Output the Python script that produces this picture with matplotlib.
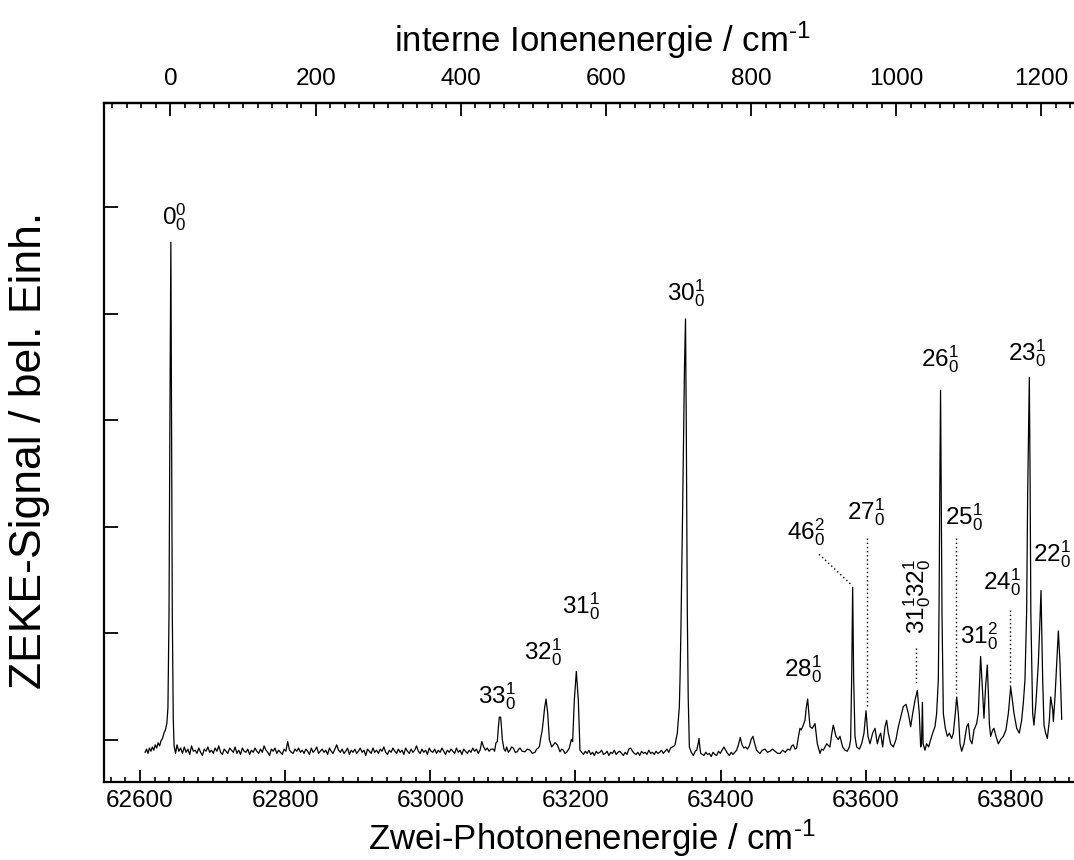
import numpy as np
import matplotlib
matplotlib.use("Agg")
import matplotlib.pyplot as plt
from matplotlib.ticker import MultipleLocator, FixedLocator

plt.rcParams['font.family'] = ['Liberation Sans', 'DejaVu Sans']
plt.rcParams['mathtext.fontset'] = 'custom'
plt.rcParams['mathtext.rm'] = 'Liberation Sans'
plt.rcParams['mathtext.it'] = 'Liberation Sans:italic'
plt.rcParams['mathtext.bf'] = 'Liberation Sans:bold'

## spectrum (x in cm^-1, signal in arb. units) ##

# origin band 0-0
band_00 = [(62607, -0.12), (62609, -0.09), (62611, -0.13), (62613, -0.08), (62615, -0.11),
           (62617, -0.07), (62619, -0.10), (62621, -0.05), (62623, -0.08), (62625, -0.03),
           (62627, -0.06), (62629, -0.01), (62631, 0.01), (62633, 0.06), (62635, 0.09),
           (62637, 0.15), (62638.5, 0.30), (62640, 1.2), (62641.2, 3.0), (62642.5, 4.67),
           (62643.5, 3.0), (62644.5, 1.2), (62645.8, 0.2), (62647, -0.06), (62649, -0.13)]

# baseline noise, 2.5 cm^-1 steps
noise_1_start = 62651
noise_1 = [-0.05, -0.11, -0.08, -0.13, -0.07, -0.12, -0.09, -0.14, -0.06, -0.11,
           -0.10, -0.13, -0.08, -0.12, -0.15, -0.09, -0.11, -0.07, -0.12, -0.10,
           -0.13, -0.08, -0.11, -0.06, -0.12, -0.14, -0.09, -0.11, -0.13, -0.08,
           -0.10, -0.12, -0.07, -0.13, -0.10, -0.14, -0.08, -0.11, -0.12, -0.09,
           -0.14, -0.10, -0.12, -0.08, -0.11, -0.13, -0.09, -0.12, -0.06, -0.10,
           -0.12, -0.15, -0.09, -0.11, -0.08, -0.13, -0.10, -0.12, -0.14, -0.09,
           -0.11, -0.02, -0.10, -0.12, -0.13, -0.09, -0.11, -0.08, -0.12, -0.10,
           -0.13, -0.09, -0.11, -0.14, -0.08, -0.12, -0.10, -0.07, -0.13, -0.11,
           -0.09, -0.12, -0.10, -0.14, -0.08, -0.11, -0.13, -0.09, -0.05, -0.10,
           -0.12, -0.09, -0.13, -0.11, -0.08, -0.14, -0.10, -0.12, -0.09, -0.13,
           -0.11, -0.08, -0.12, -0.10, -0.15, -0.09, -0.11, -0.13, -0.08, -0.12,
           -0.10, -0.13, -0.09, -0.11, -0.07, -0.12, -0.14, -0.10, -0.12, -0.08,
           -0.11, -0.13, -0.09, -0.12, -0.10, -0.14, -0.08, -0.11, -0.13, -0.09,
           -0.12, -0.10, -0.06, -0.11, -0.13, -0.09, -0.12, -0.10, -0.14, -0.08,
           -0.11, -0.12, -0.09, -0.13, -0.10, -0.12, -0.08, -0.11, -0.14, -0.10,
           -0.12, -0.09, -0.11, -0.13, -0.08, -0.12, -0.10, -0.14, -0.09, -0.11,
           -0.13, -0.10, -0.12, -0.08, -0.11, -0.09, -0.13, -0.10, -0.02, -0.07,
           -0.10, -0.08, -0.11, -0.09]

bands_33_32_31 = [(63086.8, -0.09), (63088.5, -0.11), (63090.5, -0.03), (63092.3, -0.02),
                  (63093.8, 0.12), (63095.1, 0.21), (63096.9, 0.21), (63098.2, 0.10),
                  (63099.2, 0.0), (63101.5, -0.09), (63103.5, -0.11), (63105.2, -0.07),
                  (63107.5, -0.12), (63109.8, -0.10), (63112.0, -0.07), (63114.4, -0.08),
                  (63117.0, -0.12), (63119.9, -0.115), (63121.8, -0.09), (63123.6, -0.08),
                  (63126.5, -0.11), (63130.5, -0.115), (63133.5, -0.09), (63137.4, -0.10),
                  (63140.5, -0.13), (63144.2, -0.12), (63146.5, -0.09), (63148.8, -0.08),
                  (63150.5, -0.06), (63152.0, 0.01), (63154.0, 0.08), (63155.7, 0.18),
                  (63157.5, 0.30), (63159.4, 0.38), (63161.7, 0.25), (63164.0, 0.00),
                  (63167.2, -0.07), (63169.5, -0.05), (63171.8, -0.03), (63175.0, -0.05),
                  (63178.7, -0.115), (63181.0, -0.09), (63183.3, -0.10), (63185.5, -0.13),
                  (63187.9, -0.12), (63191.5, -0.08), (63194.3, 0.00), (63196.1, -0.02),
                  (63198.4, 0.37), (63201.2, 0.64), (63203.9, 0.37), (63206.2, -0.10)]

noise_2_start = 63208.5
noise_2 = [-0.12, -0.14, -0.11, -0.13, -0.10, -0.14, -0.12, -0.15, -0.11, -0.13,
           -0.12, -0.10, -0.14, -0.13, -0.11, -0.15, -0.12, -0.13, -0.10, -0.14,
           -0.12, -0.11, -0.13, -0.15, -0.12, -0.14, -0.09, -0.08, -0.11, -0.13,
           -0.14, -0.12, -0.15, -0.11, -0.13, -0.12, -0.14, -0.10, -0.13, -0.12,
           -0.14, -0.11, -0.13, -0.12, -0.10, -0.13, -0.11, -0.09, -0.12, -0.08,
           -0.07, -0.06]

band_30 = [(63337.1, -0.05), (63340.3, 0.06), (63342.1, 0.23), (63343.1, 0.31),
           (63344.0, 0.56), (63345.2, 1.0), (63346.3, 1.50), (63347.5, 2.1),
           (63348.8, 2.8), (63350.2, 3.5), (63351.6, 3.95), (63352.6, 3.0),
           (63353.4, 2.0), (63354.1, 1.18), (63355.3, 0.4), (63356.9, -0.07),
           (63359.5, -0.12), (63362.4, -0.15), (63365.0, -0.11), (63367.0, -0.10),
           (63369.0, -0.04), (63370.2, 0.01), (63371.5, -0.08), (63372.5, -0.13),
           (63375.0, -0.14)]

noise_3_start = 63377
noise_3 = [-0.15, -0.12, -0.14, -0.13, -0.16, -0.12, -0.14, -0.15, -0.11, -0.13,
           -0.10, -0.07, -0.10, -0.13, -0.15, -0.12, -0.14, -0.12, -0.10, -0.05,
           0.02, -0.05, -0.08, -0.07, -0.09, -0.06, 0.00, 0.03, -0.04, -0.10,
           -0.12]

bands_high = [(63454.2, -0.13), (63457.5, -0.10), (63461.1, -0.09), (63464.5, -0.12),
              (63468.0, -0.11), (63471.5, -0.09), (63474.9, -0.11), (63478.5, -0.13),
              (63481.8, -0.13), (63485.5, -0.10), (63489.0, -0.12), (63492.5, -0.09),
              (63495.5, -0.10), (63498.0, -0.06), (63500.1, -0.05), (63502.5, -0.09),
              (63504.7, -0.08), (63507.0, 0.02), (63509.3, 0.105), (63511.0, 0.09),
              (63513.0, 0.12), (63516.2, 0.18), (63518.0, 0.30), (63519.9, 0.38),
              (63521.5, 0.25), (63523.1, 0.12), (63526.3, 0.105), (63528.3, 0.13),
              (63530.0, 0.15), (63533.2, -0.04), (63536.9, -0.13), (63539.0, -0.09),
              (63541.5, -0.10), (63546.1, -0.04), (63550.6, -0.07), (63553.0, 0.05),
              (63555.2, 0.135), (63558.9, 0.03), (63562.1, 0.00), (63564.4, 0.03),
              (63568.1, -0.07), (63571.3, -0.10), (63574.5, -0.11), (63577.3, -0.07),
              (63579.1, 0.00), (63580.5, 0.56), (63581.9, 1.43), (63583.3, 0.56),
              (63585.1, 0.03), (63587.4, -0.07), (63591.1, -0.09), (63594.3, -0.04),
              (63597.5, 0.06), (63600.3, 0.27), (63603.0, 0.03), (63605.8, -0.04),
              (63609.4, 0.06), (63612.7, 0.105), (63615.9, -0.04), (63618.6, 0.03),
              (63620.5, 0.06), (63623.2, -0.07), (63626.4, 0.12), (63628.7, 0.18),
              (63631.0, 0.06), (63634.2, -0.04), (63637.9, -0.07), (63641.6, 0.00),
              (63644.8, 0.12), (63649.4, 0.245), (63651.7, 0.31), (63655.4, 0.33),
              (63658.6, 0.245), (63661.8, 0.12), (63664.6, 0.245), (63667.8, 0.37),
              (63671.0, 0.46), (63673.7, 0.245), (63675.6, -0.07), (63676.8, -0.04),
              (63678.0, 0.35), (63679.0, -0.04), (63681.5, -0.10), (63683.8, -0.04),
              (63686.6, -0.07), (63689.4, 0.00), (63692.1, 0.06), (63695.3, 0.12),
              (63697.6, 0.245), (63699.9, 0.56), (63701.0, 1.3), (63702.0, 2.4),
              (63703.0, 3.28), (63704.0, 2.2), (63705.0, 1.18), (63706.8, 0.245),
              (63709.6, 0.105), (63712.3, 0.03), (63715.1, 0.06), (63718.3, 0.01),
              (63720.6, 0.06), (63723.3, 0.245), (63725.2, 0.40), (63727.5, 0.245),
              (63729.8, -0.04), (63732.1, -0.11), (63735.3, -0.04), (63739.0, 0.12),
              (63741.3, 0.15), (63743.6, 0.00), (63746.3, -0.04), (63749.1, 0.09),
              (63752.7, 0.15), (63755.0, 0.245), (63756.8, 0.55), (63758.2, 0.78),
              (63760.5, 0.50), (63762.8, 0.20), (63765.1, 0.50), (63767.4, 0.70),
              (63768.8, 0.45), (63770.2, 0.15), (63772.0, 0.03), (63774.8, 0.09),
              (63776.6, 0.105), (63779.4, 0.03), (63782.6, -0.04), (63785.8, 0.00),
              (63789.5, 0.03), (63793.1, 0.09), (63796.4, 0.245), (63799.6, 0.49),
              (63801.4, 0.40), (63804.2, 0.245), (63807.9, 0.105), (63811.5, 0.06),
              (63814.7, 0.18), (63817.0, 0.34), (63819.3, 0.56), (63821.6, 1.2),
              (63823.0, 2.3), (63825.3, 3.40), (63826.4, 2.4), (63827.4, 1.18),
              (63829.9, 0.245), (63831.7, 0.135), (63834.5, 0.355), (63837.7, 0.715),
              (63839.6, 1.05), (63841.4, 1.40), (63843.7, 0.56), (63845.5, 0.135),
              (63847.8, 0.06), (63850.1, 0.01), (63852.9, 0.18), (63854.7, 0.40),
              (63857.5, 0.28), (63858.4, 0.17), (63860.7, 0.40), (63863.0, 0.715),
              (63865.3, 1.02), (63867.6, 0.715), (63869.9, 0.19)]

## band assignments: text, x, y of label bottom ##
labels = [r'$0_0^0$', r'$33_0^1$', r'$32_0^1$', r'$31_0^1$', r'$30_0^1$', r'$28_0^1$',
          r'$46_0^2$', r'$27_0^1$', r'$26_0^1$', r'$25_0^1$', r'$31_0^2$', r'$24_0^1$',
          r'$23_0^1$', r'$22_0^1$']
label_x = [62646.8, 63091.9, 63155.2, 63207.6, 63352.3, 63513.5,
           63517.6, 63600.3, 63702.2, 63735.3, 63756.0, 63787.7,
           63822.1, 63856.6]
label_y = [4.76, 0.26, 0.67, 1.10, 4.04, 0.51,
           1.80, 1.99, 3.42, 1.94, 0.82, 1.33,
           3.48, 1.59]

combo_label = r'$31_{0}^{1}32_{0}^{1}$'
combo_x, combo_y = 63670.6, 1.34

# dotted guide lines
guides_x0 = [63535.6, 63601.7, 63669.2, 63724.7, 63798.7]
guides_y0 = [1.74, 1.89, 0.86, 1.89, 1.22]
guides_x1 = [63579.2, 63601.7, 63669.2, 63724.7, 63798.7]
guides_y1 = [1.46, 0.30, 0.51, 0.44, 0.48]

bottom_ticks = [62600, 62800, 63000, 63200, 63400, 63600, 63800]
top_ticks = [0, 200, 400, 600, 800, 1000, 1200]

ORIGIN = 62642  # 0-0 band -> zero of internal ion energy


def noise_part(start, vals, step=2.5):
    return list(zip(start + step * np.arange(len(vals)), vals))


trace = (band_00 + noise_part(noise_1_start, noise_1) + bands_33_32_31
         + noise_part(noise_2_start, noise_2) + band_30
         + noise_part(noise_3_start, noise_3) + bands_high)
trace = sorted(trace)
wn = np.array([p[0] for p in trace])
sig = np.array([p[1] for p in trace])

fig = plt.figure(figsize=(10.74, 8.6), dpi=100)
W, H = 1074, 860
ax = fig.add_axes([104 / W, 1 - 781.7 / H, (W - 104) / W, (781.7 - 102.7) / H])

ax.plot(wn, sig, color='k', lw=0.9)

ax.set_xlim(62550.4, 62600 + (W - 140) / 0.7258)
ax.set_ylim(-0.396, 5.98)

for s in ['left', 'bottom', 'top']:
    ax.spines[s].set_linewidth(1.6)
ax.spines['right'].set_visible(False)

ax.xaxis.set_major_locator(FixedLocator(bottom_ticks))
ax.xaxis.set_minor_locator(MultipleLocator(20))
ax.yaxis.set_major_locator(MultipleLocator(1))
ax.tick_params(axis='x', which='major', direction='in', length=9, width=1.3,
               labelsize=17.5, pad=6)
ax.tick_params(axis='x', which='minor', direction='in', length=3.5, width=1.2)
ax.tick_params(axis='y', which='major', direction='in', length=10, width=1.3,
               labelleft=False)

top = ax.secondary_xaxis('top', functions=(lambda v: v - ORIGIN, lambda t: t + ORIGIN))
top.xaxis.set_major_locator(FixedLocator(top_ticks))
top.xaxis.set_minor_locator(MultipleLocator(20))
top.tick_params(which='major', direction='in', length=9, width=1.3, labelsize=17.5, pad=9)
top.tick_params(which='minor', direction='in', length=3.5, width=1.2)
top.spines['top'].set_linewidth(1.6)

for txt, x, y in zip(labels, label_x, label_y):
    ax.text(x, y, txt, fontsize=17.5, ha='center', va='bottom')
ax.text(combo_x, combo_y, combo_label, fontsize=17.5, ha='center', va='center',
        rotation=90)

for x0, y0, x1, y1 in zip(guides_x0, guides_y0, guides_x1, guides_y1):
    ax.plot([x0, x1], [y0, y1], color='k', lw=1.0, ls=(0, (1, 2)))

fig.text(592 / W, 1 - 850 / H, 'Zwei-Photonenenergie / cm$^{\u20101}$', fontsize=25,
         ha='center', va='baseline')
fig.text(602 / W, 1 - 51.7 / H, 'interne Ionenenergie / cm$^{\u20101}$', fontsize=25,
         ha='center', va='baseline')
fig.text(30 / W, 1 - 450 / H, 'ZEKE-Signal / bel. Einh.', fontsize=32,
         ha='center', va='center', rotation=90)

fig.savefig('out.png', dpi=100)
